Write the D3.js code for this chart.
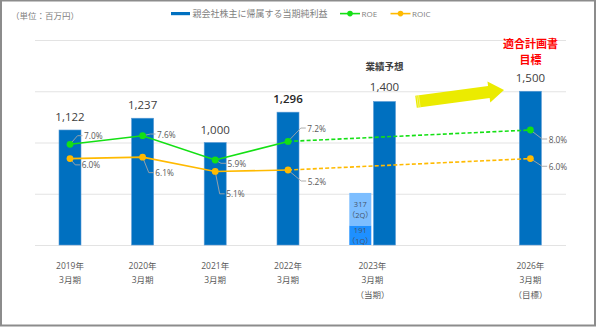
<!DOCTYPE html>
<html>
<head>
<meta charset="utf-8">
<script src="https://cdn.jsdelivr.net/npm/d3@7"></script>
<style>
  html, body { margin: 0; padding: 0; background: #fff; }
  svg { display: block; font-family: "Open Sans", "Noto Sans CJK JP", sans-serif; }
</style>
</head>
<body>
<svg id="chart" width="597" height="327"></svg>
<script>
// ---- data ----
const categories = ["2019", "2020", "2021", "2022", "2023", "2026"];
const yearLabels = ["2019年", "2020年", "2021年", "2022年", "2023年", "2026年"];
const periodLabels = ["3月期", "3月期", "3月期", "3月期", "3月期", "3月期"];
const noteLabels = ["", "", "", "", "（当期）", "（目標）"];
const netIncome = [1122, 1237, 1000, 1296, 1400, 1500];
const roe = [7.0, 7.6, 5.9, 7.2, null, 8.0];
const roic = [6.0, 6.1, 5.1, 5.2, null, 6.0];
const quarterCategory = "2023";
const quarterNames = ["1Q", "2Q"];
const quarterValues = [191, 317];
const legendNames = ["親会社株主に帰属する当期純利益", "ROE", "ROIC"];
const unitLabel = "（単位：百万円）";
const forecastNote = "業績予想";
const targetNote = ["適合計画書", "目標"];

// ---- layout ----
const W = 597, H = 327;
const plot = { left: 35, right: 566, top: 40, bottom: 245 };
const barW = 22;
const colors = {
  bar: "#0070C0", q1: "#1E90FF", q2: "#7DBEFF",
  roe: "#14E014", roic: "#FFBA00", grid: "#E3E3E3",
  text: "#595959", value: "#404040", leader: "#A6A6A6"
};

const svg = d3.select("#chart");

// outer frame
svg.append("rect")
  .attr("x", 1).attr("y", 0.5).attr("width", 594).attr("height", 325)
  .attr("fill", "#fff").attr("stroke", "#8C8C8C").attr("stroke-width", 2);

// category centres along the bottom
const x = d3.scaleOrdinal(categories, [70, 142.6, 215.2, 288, 372.4, 530.4]);
// bar offset inside a category that also holds the quarterly stack
const mainOffset = c => (c === quarterCategory ? 12.1 : 0);
const quarterOffset = -12.1;

const y = d3.scaleLinear().domain([0, 2000]).range([plot.bottom, plot.top]);
const yPct = d3.scaleLinear().domain([0, 14.3]).range([plot.bottom - 0.7, plot.top]);

// gridlines
const yAxis = d3.axisLeft(y).tickValues(d3.range(0, 2001, 500))
  .tickSize(-(plot.right - plot.left)).tickFormat("");
const gAxis = svg.append("g").attr("transform", `translate(${plot.left},0)`).call(yAxis);
gAxis.select(".domain").remove();
gAxis.selectAll(".tick line").attr("stroke", colors.grid).attr("stroke-width", 1.2);

// main bars
svg.append("g").selectAll("rect").data(categories).join("rect")
  .attr("x", (c) => x(c) + mainOffset(c) - barW / 2)
  .attr("y", (c, i) => y(netIncome[i]))
  .attr("width", barW)
  .attr("height", (c, i) => y(0) - y(netIncome[i]))
  .attr("fill", colors.bar)
  .attr("stroke", "#5B9BD5").attr("stroke-width", 0.6);

// quarterly stack
const qStack = [];
let acc = 0;
quarterValues.forEach((v, i) => { qStack.push({ name: quarterNames[i], v, y0: acc, y1: acc + v }); acc += v; });
const qx = x(quarterCategory) + quarterOffset - barW / 2;
const qg = svg.append("g");
qg.selectAll("rect").data(qStack).join("rect")
  .attr("x", qx).attr("width", barW)
  .attr("y", d => y(d.y1))
  .attr("height", d => y(d.y0) - y(d.y1))
  .attr("fill", (d, i) => (i === 0 ? colors.q1 : colors.q2));
qStack.forEach(d => {
  const cy = (y(d.y0) + y(d.y1)) / 2;
  qg.append("text").attr("x", qx + barW / 2).attr("y", cy - 5.5)
    .attr("text-anchor", "middle").attr("dominant-baseline", "central")
    .attr("font-size", 7.5).attr("fill", "#44546A").text(d.v);
  qg.append("text").attr("x", qx + barW / 2).attr("y", cy + 5.5)
    .attr("text-anchor", "middle").attr("dominant-baseline", "central")
    .attr("font-size", 7.5).attr("fill", "#44546A").text(`（${d.name}）`);
});

// bar value labels
svg.append("g").selectAll("text").data(categories).join("text")
  .attr("x", c => x(c) + mainOffset(c))
  .attr("y", (c, i) => y(netIncome[i]) - (c === quarterCategory ? 15.5 : 13.5))
  .attr("text-anchor", "middle").attr("dominant-baseline", "central")
  .attr("font-size", 11.5)
  .attr("font-weight", c => (c === "2022" ? 600 : 400))
  .attr("fill", c => (c === "2022" ? "#262626" : colors.value))
  .text((c, i) => d3.format(",")(netIncome[i]));

// forecast / target notes
const fcI = categories.indexOf(quarterCategory);
svg.append("text")
  .attr("x", x(quarterCategory) + mainOffset(quarterCategory))
  .attr("y", y(netIncome[fcI]) - 35)
  .attr("text-anchor", "middle").attr("dominant-baseline", "central")
  .attr("font-size", 9.5).attr("font-weight", 700).attr("fill", "#404040")
  .text(forecastNote);
const tgI = categories.length - 1;
targetNote.forEach((t, k) => {
  svg.append("text")
    .attr("x", x(categories[tgI])).attr("y", 43.5 + k * 16)
    .attr("text-anchor", "middle").attr("dominant-baseline", "central")
    .attr("font-size", 11).attr("font-weight", 700).attr("fill", "#FF0000")
    .text(t);
});

// arrow from the forecast towards the target
const arrow = svg.append("g").attr("transform", "translate(416,101.7) rotate(-7.6)");
arrow.append("path")
  .attr("d", "M0,-6 L73.5,-6 L73.5,-10.6 L88.8,0 L73.5,10.6 L73.5,6 L0,6 Z")
  .attr("fill", "#EBEB00");
[1.6, 3.4].forEach(sx => arrow.append("line")
  .attr("x1", sx).attr("x2", sx).attr("y1", -6).attr("y2", 6)
  .attr("stroke", "#F8F890").attr("stroke-width", 0.7));

// ROE / ROIC lines: solid through actuals, dashed to the target year
function drawRatio(values, color) {
  const pts = categories.map((c, i) => ({ c, v: values[i] })).filter(d => d.v != null);
  const lastActual = pts.length - 2;
  const line = d3.line().x(d => x(d.c)).y(d => yPct(d.v));
  svg.append("path").datum(pts.slice(0, lastActual + 1))
    .attr("d", line).attr("fill", "none").attr("stroke", color).attr("stroke-width", 1.6);
  svg.append("path").datum(pts.slice(lastActual))
    .attr("d", line).attr("fill", "none").attr("stroke", color).attr("stroke-width", 1.6)
    .attr("stroke-dasharray", "4,2.2");
  return pts;
}

// label placement: dx, dy relative to the marker
const roeLabelPos = { "2019": [14, -8.6], "2020": [14.4, -1.7], "2021": [12.3, 3.3], "2022": [19.3, -13.4], "2026": [18.3, 9] };
const roicLabelPos = { "2019": [11.7, 6.3], "2020": [12.7, 15.5], "2021": [11, 22.4], "2022": [19.7, 11], "2026": [18.3, 7.7] };

function drawLabels(pts, pos, color) {
  const g = svg.append("g");
  pts.forEach(d => {
    const mx = x(d.c), my = yPct(d.v);
    const lx = mx + pos[d.c][0], ly = my + pos[d.c][1];
    g.append("polyline")
      .attr("points", `${mx},${my} ${lx - 6.5},${ly} ${lx - 1.5},${ly}`)
      .attr("fill", "none").attr("stroke", colors.leader).attr("stroke-width", 0.9);
    g.append("text").attr("x", lx).attr("y", ly)
      .attr("dominant-baseline", "central").attr("font-size", 8.3)
      .attr("fill", colors.text).text(d3.format(".1f")(d.v) + "%");
  });
}

const roePts = drawRatio(roe, colors.roe);
const roicPts = drawRatio(roic, colors.roic);
drawLabels(roePts, roeLabelPos, colors.roe);
drawLabels(roicPts, roicLabelPos, colors.roic);
[[roePts, colors.roe], [roicPts, colors.roic]].forEach(([pts, col]) => {
  svg.append("g").selectAll("circle").data(pts).join("circle")
    .attr("cx", d => x(d.c)).attr("cy", d => yPct(d.v)).attr("r", 3.4)
    .attr("fill", col);
});

// category labels
const xl = svg.append("g").attr("font-size", 8.5).attr("fill", colors.text).attr("text-anchor", "middle");
categories.forEach((c, i) => {
  [yearLabels[i], periodLabels[i], noteLabels[i]].forEach((t, k) => {
    if (!t) return;
    xl.append("text").attr("x", x(c)).attr("y", 265.7 + k * 14.2)
      .attr("dominant-baseline", "central").text(t);
  });
});

// unit label
svg.append("text").attr("x", 11).attr("y", 15).attr("dominant-baseline", "central")
  .attr("font-size", 8.5).attr("fill", "#7F7F7F").text(unitLabel);

// legend
const lg = svg.append("g").attr("font-size", 9).attr("fill", "#7F7F7F");
lg.append("rect").attr("x", 171).attr("y", 12).attr("width", 19).attr("height", 3.2).attr("fill", colors.bar);
lg.append("text").attr("x", 192.5).attr("y", 13.8).attr("dominant-baseline", "central").text(legendNames[0]);
[[340, colors.roe, legendNames[1]], [390.5, colors.roic, legendNames[2]]].forEach(([lx, col, name]) => {
  lg.append("line").attr("x1", lx).attr("x2", lx + 20).attr("y1", 13.6).attr("y2", 13.6)
    .attr("stroke", col).attr("stroke-width", 1.6);
  lg.append("circle").attr("cx", lx + 10).attr("cy", 13.6).attr("r", 2.8).attr("fill", col);
  lg.append("text").attr("x", lx + 21.5).attr("y", 13.8).attr("dominant-baseline", "central")
    .attr("font-size", 8).text(name);
});
</script>
</body>
</html>
